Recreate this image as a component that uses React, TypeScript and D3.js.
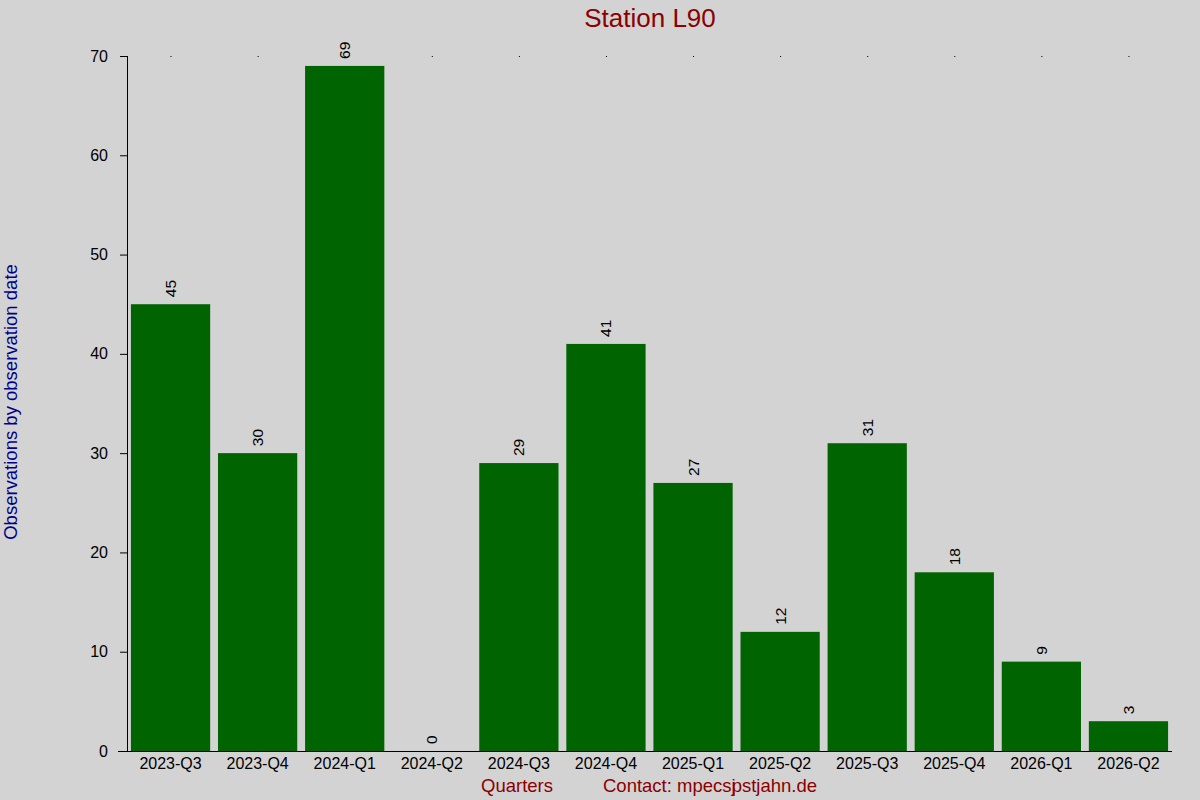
import { useEffect, useRef } from "react";
import * as d3 from "d3";

const quarters = [
  "2023-Q3", "2023-Q4", "2024-Q1", "2024-Q2", "2024-Q3", "2024-Q4",
  "2025-Q1", "2025-Q2", "2025-Q3", "2025-Q4", "2026-Q1", "2026-Q2",
];
const observations = [45, 30, 69, 0, 29, 41, 27, 12, 31, 18, 9, 3];
const yTicks = [0, 10, 20, 30, 40, 50, 60, 70];

const W = 1200;
const H = 800;
const FONT = "'Liberation Sans', Arial, sans-serif";

export default function App() {
  const svgRef = useRef<SVGSVGElement>(null);

  useEffect(() => {
    document.body.style.margin = "0";
    if (!svgRef.current) return;
    const svg = d3.select(svgRef.current);
    svg.selectAll("*").remove();

    const margin = { top: 56, right: 28, bottom: 49, left: 127 };
    const width = W - margin.left - margin.right;
    const height = H - margin.top - margin.bottom;

    svg.append("rect").attr("width", W).attr("height", H).attr("fill", "#d3d3d3");

    const g = svg.append("g").attr("transform", `translate(${margin.left},${margin.top})`);

    const x = d3.scaleBand().domain(quarters).range([0, width]).paddingInner(0.09).paddingOuter(0.045);
    const y = d3.scaleLinear().domain([0, 70]).range([height, 0]);

    // bars
    g.selectAll("rect.bar")
      .data(observations)
      .enter()
      .append("rect")
      .attr("class", "bar")
      .attr("x", (_, i) => x(quarters[i]) || 0)
      .attr("y", (d) => y(d))
      .attr("width", x.bandwidth())
      .attr("height", (d) => height - y(d))
      .attr("fill", "#006400");

    // value labels
    g.selectAll("text.val")
      .data(observations)
      .enter()
      .append("text")
      .attr("class", "val")
      .attr("transform", (d, i) => `translate(${(x(quarters[i]) || 0) + x.bandwidth() / 2 + 5.5},${y(d) - 7}) rotate(-90)`)
      .attr("font-family", FONT)
      .attr("font-size", 15.5)
      .attr("fill", "#000")
      .text((d) => d);

    // top tick dots
    g.selectAll("line.top")
      .data(quarters)
      .enter()
      .append("line")
      .attr("x1", (d) => (x(d) || 0) + x.bandwidth() / 2)
      .attr("x2", (d) => (x(d) || 0) + x.bandwidth() / 2 + 1)
      .attr("y1", 0.5)
      .attr("y2", 0.5)
      .attr("stroke", "#000")
      .attr("stroke-width", 1);

    // x axis
    g.append("g")
      .attr("transform", `translate(0,${height})`)
      .call(d3.axisBottom(x).tickSize(0).tickPadding(7))
      .call((a) => a.select(".domain").attr("d", `M-9,0.5H${width}`).attr("stroke", "#000"))
      .call((a) => a.selectAll(".tick text").attr("font-family", FONT).attr("font-size", 16).attr("fill", "#000"));

    // y axis
    g.append("g")
      .call(d3.axisLeft(y).tickValues(yTicks).tickSize(7).tickPadding(12))
      .call((a) => a.select(".domain").attr("d", `M0.5,0V${height}`).attr("stroke", "#000"))
      .call((a) => a.selectAll(".tick line").attr("stroke", "#000"))
      .call((a) => a.selectAll(".tick text").attr("font-family", FONT).attr("font-size", 16).attr("fill", "#000"));

    // title
    svg.append("text")
      .attr("x", 650)
      .attr("y", 27)
      .attr("text-anchor", "middle")
      .attr("font-family", FONT)
      .attr("font-size", 26)
      .attr("fill", "#8b0000")
      .text("Station L90");

    // y label
    svg.append("text")
      .attr("transform", `translate(17,402) rotate(-90)`)
      .attr("text-anchor", "middle")
      .attr("font-family", FONT)
      .attr("font-size", 18.5)
      .attr("fill", "#00008b")
      .text("Observations by observation date");

    // x label + contact
    svg.append("text")
      .attr("x", 517)
      .attr("y", 792)
      .attr("text-anchor", "middle")
      .attr("font-family", FONT)
      .attr("font-size", 18.5)
      .attr("fill", "#8b0000")
      .text("Quarters");

    const contact = svg.append("text")
      .attr("x", 603)
      .attr("y", 792)
      .attr("font-family", FONT)
      .attr("font-size", 18.5)
      .attr("fill", "#8b0000");
    contact.append("tspan").text("Contact: mpecsj");
    contact.append("tspan").attr("dx", -4).text("pstjahn.de");
  }, []);

  return (
    <div style={{ position: "absolute", left: 0, top: 0 }}>
      <svg ref={svgRef} width={W} height={H} />
    </div>
  );
}
